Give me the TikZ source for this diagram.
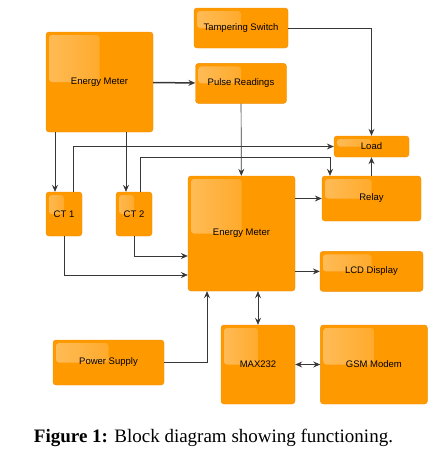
\documentclass[tikz,border=0pt]{standalone}
\usepackage{fontspec}
\setmainfont{Liberation Serif}
\setsansfont{Liberation Sans}
\usepackage{xcolor}
\usepackage{tikz}
\usetikzlibrary{shapes,arrows.meta,positioning,calc}

\definecolor{boxorange}{RGB}{255,153,0}
\definecolor{boxedge}{RGB}{240,140,0}
\definecolor{wire}{RGB}{55,55,55}

\begin{document}
\begin{tikzpicture}[x=1pt, y=-1pt, >={Stealth[length=7pt,width=6pt,inset=2.5pt]},
    box/.style={rectangle, draw=boxedge, rounded corners=3pt, fill=boxorange, text centered, font=\sffamily\fontsize{9.5}{11}\selectfont,
        path picture={\shade[left color=white, right color=boxorange, opacity=.35, rounded corners=3pt] ([shift={(3pt,-3pt)}]path picture bounding box.north west) rectangle ($(path picture bounding box.north west)!.5!(path picture bounding box.south east)$);}},
    wire/.style={draw=wire, line width=.7pt}]
        \useasboundingbox (0,0) rectangle (435,455);

        \node[box, minimum width=107pt, minimum height=100pt] (meter) at (99.5,82) {Energy Meter};
        \node[box, minimum width=94pt, minimum height=40pt] (tamper) at (241,28) {Tampering Switch};
        \node[box, minimum width=91pt, minimum height=40pt, below=15pt of tamper] (pulse) {Pulse Readings};
        \node[box, minimum width=75pt, minimum height=21pt] (load) at (371.5,146.5) {Load};
        \node[box, minimum width=36pt, minimum height=44pt] (ct1) at (64,214) {CT 1};
        \node[box, minimum width=36pt, minimum height=44pt] (ct2) at (134,214) {CT 2};
        \node[box, minimum width=107pt, minimum height=115pt] (main) at (241.5,233.5) {Energy Meter};
        \node[box, minimum width=99pt, minimum height=45pt] (relay) at (371.5,198.5) {Relay};
        \node[box, minimum width=103pt, minimum height=40pt, below=30pt of relay] (lcd) {LCD Display};
        \node[box, minimum width=74pt, minimum height=79pt] (max) at (258,364.5) {MAX232};
        \node[box, minimum width=107pt, minimum height=79pt, right=25pt of max] (gsm) {GSM Modem};
        \node[box, minimum width=111pt, minimum height=45pt] (power) at (108.5,362.5) {Power Supply};

        \node (caption) at (213.5,438) {\fontsize{19}{22}\selectfont\textbf{Figure 1:} Block diagram showing functioning.};

        \coordinate (ct1in) at ([xshift=-9pt]ct1.north);
        \coordinate (ct2in) at ([xshift=-8pt]ct2.north);
        \coordinate (relayin) at ([xshift=-41.5pt]relay.north);
        \coordinate (mainin1) at ([yshift=-41.5pt]main.west);
        \coordinate (mainin2) at ([yshift=-22.5pt]main.west);
        \coordinate (mainin3) at ([xshift=-34.5pt]main.south);

        \draw[->, wire, line width=1.5pt] (meter) -- (pulse);
        \draw[->, wire] (tamper) -| (load);
        \draw[->, wire] (pulse) -- (main);
        \draw[->, wire] (meter.south -| ct1in) -- (ct1in);
        \draw[->, wire] (meter.south -| ct2in) -- (ct2in);
        \draw[->, wire] ([xshift=9pt]ct1.north) |- (load);
        \draw[->, wire] ([xshift=6pt]ct2.north) |- (load.south -| relayin) -- (relayin);
        \draw[->, wire] (relay) -- (load);
        \draw[->, wire] (main.east |- relay) -- (relay);
        \draw[->, wire] (main.east |- lcd) -- (lcd);
        \draw[->, wire] (ct1.south) |- (mainin1);
        \draw[->, wire] (ct2.south) |- (mainin2);
        \draw[->, wire] (power) -| (mainin3);
        \draw[<->, wire] (main.south -| max) -- (max);
        \draw[<->, wire] (max) -- (gsm);
    \end{tikzpicture}
\end{document}
